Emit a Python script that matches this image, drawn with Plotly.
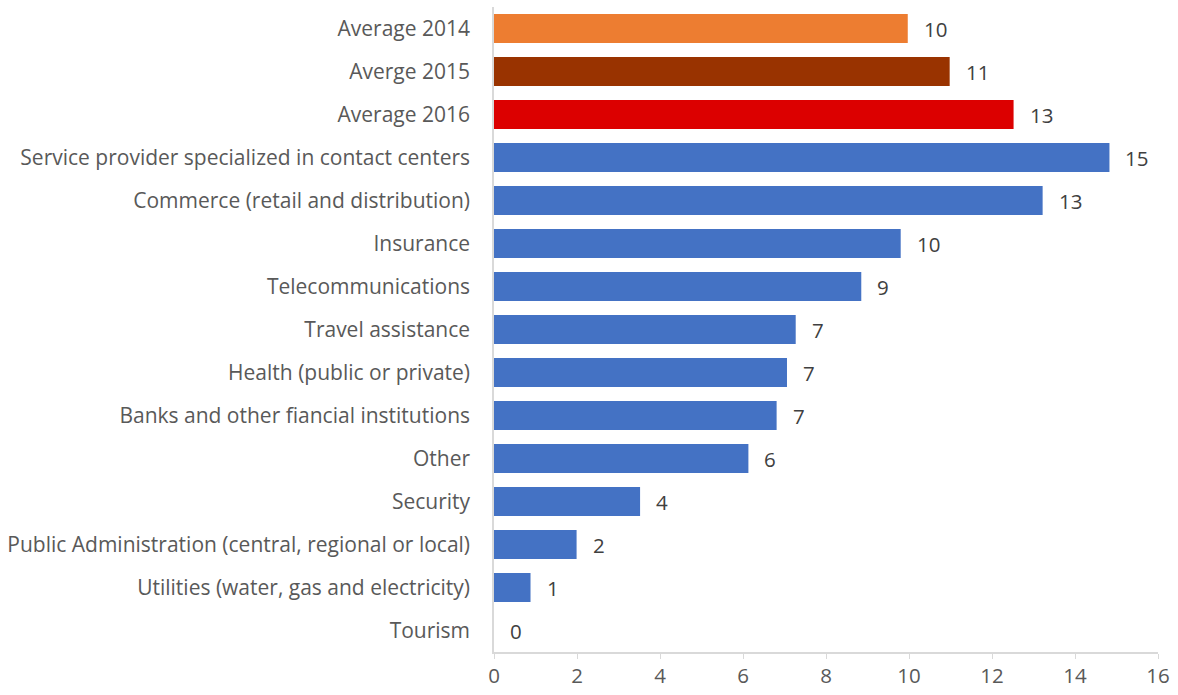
import plotly.graph_objects as go

# Categories listed top to bottom
categories = [
    "Average 2014",
    "Averge 2015",
    "Average 2016",
    "Service provider specialized in contact centers",
    "Commerce (retail and distribution)",
    "Insurance",
    "Telecommunications",
    "Travel assistance",
    "Health (public or private)",
    "Banks and other fiancial institutions",
    "Other",
    "Security",
    "Public Administration (central, regional or local)",
    "Utilities (water, gas and electricity)",
    "Tourism",
]
values = [9.97, 10.98, 12.52, 14.83, 13.22, 9.8, 8.85, 7.27, 7.06, 6.81, 6.13, 3.52, 1.99, 0.88, 0.0]
bar_colors = ["#ED7D31", "#993300", "#DC0000"] + ["#4472C4"] * 12
x_ticks = [0, 2, 4, 6, 8, 10, 12, 14, 16]

FONT = "Open Sans"
GREY_TEXT = "#595959"

fig = go.Figure(
    go.Bar(
        x=values,
        y=categories,
        orientation="h",
        marker=dict(color=bar_colors, line=dict(width=0)),
        hoverinfo="x+y",
    )
)

# value labels just past the end of each bar
for cat, val in zip(categories, values):
    fig.add_annotation(
        x=val, y=cat, text=str(int(val + 0.5)), showarrow=False,
        xanchor="left", yanchor="middle", xshift=14,
        font=dict(family=FONT, size=20.5, color="#404040"),
    )

fig.update_layout(
    width=1178,
    height=695,
    margin=dict(l=494, r=20, t=7, b=43),
    paper_bgcolor="white",
    plot_bgcolor="white",
    bargap=0.33,
    showlegend=False,
    font=dict(family=FONT, size=20, color=GREY_TEXT),
    xaxis=dict(
        range=[0, 16],
        tickvals=x_ticks,
        showgrid=False,
        zeroline=False,
        showline=True,
        linecolor="#D9D9D9",
        linewidth=1.5,
        ticks="outside",
        ticklen=5,
        tickcolor="#D9D9D9",
        tickfont=dict(family=FONT, size=20.5, color=GREY_TEXT),
        fixedrange=True,
    ),
    yaxis=dict(
        autorange="reversed",
        showgrid=False,
        showline=True,
        linecolor="#D9D9D9",
        linewidth=1.5,
        ticks="",
        ticklabelstandoff=18,
        tickfont=dict(family=FONT, size=21, color=GREY_TEXT),
        fixedrange=True,
    ),
)

fig.write_html("out.html")
